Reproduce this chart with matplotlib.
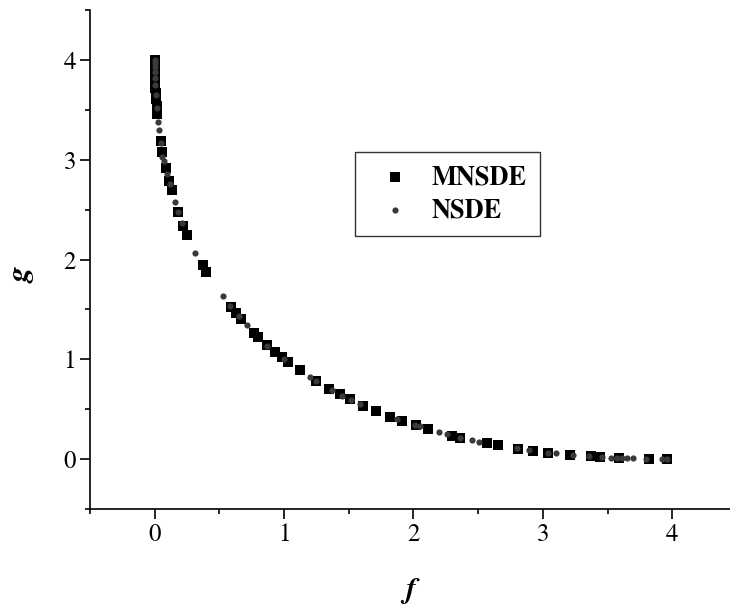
import numpy as np
import matplotlib
matplotlib.use("Agg")
import matplotlib.pyplot as plt
from matplotlib.ticker import MultipleLocator

# values
mnsde_f = [0.000, 0.000, 0.000, 0.001, 0.002, 0.003, 0.005, 0.007, 0.010, 0.014,
           0.020, 0.045, 0.060, 0.085, 0.110, 0.130, 0.180, 0.220, 0.250, 0.370,
           0.400, 0.590, 0.630, 0.670, 0.770, 0.800, 0.870, 0.930, 0.980, 1.030,
           1.120, 1.250, 1.350, 1.430, 1.510, 1.610, 1.710, 1.820, 1.910, 2.020,
           2.110, 2.300, 2.360, 2.570, 2.650, 2.810, 2.920, 3.040, 3.210, 3.370,
           3.440, 3.590, 3.820, 3.960]
mnsde_g = [4.00, 3.95, 3.90, 3.85, 3.80, 3.76, 3.72, 3.67, 3.61, 3.54,
           3.46, 3.19, 3.08, 2.92, 2.79, 2.70, 2.48, 2.34, 2.25, 1.94,
           1.87, 1.52, 1.46, 1.40, 1.26, 1.22, 1.14, 1.07, 1.02, 0.97,
           0.89, 0.78, 0.70, 0.65, 0.60, 0.53, 0.48, 0.42, 0.38, 0.34,
           0.30, 0.23, 0.21, 0.16, 0.14, 0.10, 0.08, 0.06, 0.04, 0.03,
           0.02, 0.01, 0.00, 0.00]

nsde_f = [0.000, 0.000, 0.000, 0.001, 0.002, 0.004, 0.008, 0.015, 0.025, 0.032,
          0.045, 0.060, 0.070, 0.095, 0.115, 0.155, 0.180, 0.210, 0.310, 0.525,
          0.580, 0.650, 0.710, 0.870, 1.000, 1.200, 1.250, 1.370, 1.450, 1.520,
          1.590, 1.870, 2.010, 2.050, 2.200, 2.260, 2.360, 2.450, 2.510, 2.800,
          2.890, 3.040, 3.100, 3.230, 3.360, 3.460, 3.530, 3.570, 3.610, 3.650,
          3.700, 3.800, 3.920, 3.960]
nsde_g = [4.00, 3.97, 3.93, 3.88, 3.82, 3.75, 3.65, 3.52, 3.38, 3.30,
          3.17, 3.03, 2.99, 2.86, 2.76, 2.58, 2.48, 2.37, 2.07, 1.63,
          1.53, 1.43, 1.34, 1.13, 1.00, 0.82, 0.78, 0.69, 0.63, 0.59,
          0.55, 0.40, 0.34, 0.33, 0.27, 0.25, 0.21, 0.19, 0.17, 0.11,
          0.09, 0.06, 0.06, 0.04, 0.03, 0.02, 0.01, 0.01, 0.01, 0.01,
          0.01, 0.00, 0.00, 0.00]

plt.rcParams['font.family'] = ['TeX Gyre Termes', 'Liberation Serif', 'STIXGeneral', 'DejaVu Serif']

fig = plt.figure(figsize=(7.3, 6.09), dpi=100)
ax = fig.add_axes([90/730, 100/609, 640/730, 499/609])

ax.scatter(mnsde_f, mnsde_g, marker='s', s=55, color='black', linewidths=0,
           label='MNSDE', zorder=2)
ax.scatter(nsde_f, nsde_g, marker='o', s=20, color='#3a3a3a', linewidths=0,
           label='NSDE', zorder=3)

ax.set_xlim(-0.5, 4.446)
ax.set_ylim(-0.5, 4.5)
ax.xaxis.set_major_locator(MultipleLocator(1))
ax.xaxis.set_minor_locator(MultipleLocator(0.5))
ax.yaxis.set_major_locator(MultipleLocator(1))
ax.yaxis.set_minor_locator(MultipleLocator(0.5))

ax.spines['top'].set_visible(False)
ax.spines['right'].set_visible(False)
for sp in ['left', 'bottom']:
    ax.spines[sp].set_linewidth(1.2)
ax.tick_params(which='major', direction='out', length=7, width=1.2,
               labelsize=18, pad=3)
ax.tick_params(which='minor', direction='out', length=3.5, width=1.2)

fig.text(410/730, 1 - 590/609, 'f', fontsize=22, fontweight='bold',
         fontstyle='italic', ha='center', va='center')
fig.text(22/730, 1 - 275/609, 'g', fontsize=22, fontweight='bold',
         fontstyle='italic', ha='center', va='center', rotation=90)

leg = ax.legend(loc='upper left', bbox_to_anchor=(355/730, 1 - 152/609),
                bbox_transform=fig.transFigure, frameon=True, fancybox=False,
                edgecolor='black', borderpad=0.5, labelspacing=0.3,
                handletextpad=0.42, handlelength=2.0, borderaxespad=0,
                prop={'size': 19, 'weight': 'bold'})
leg.get_frame().set_linewidth(1.0)

fig.savefig('out.png', dpi=100)
